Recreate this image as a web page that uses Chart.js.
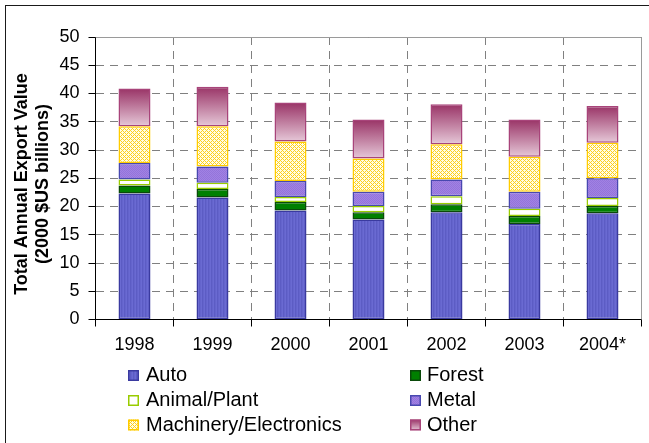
<!DOCTYPE html>
<html><head><meta charset="utf-8">
<script src="https://cdn.jsdelivr.net/npm/chart.js@4.4.1/dist/chart.umd.min.js"></script>
<style>html,body{margin:0;padding:0;background:#fff;overflow:hidden}canvas{display:block}</style>
</head><body>
<canvas id="c" width="649" height="443"></canvas>
<script>
// ---- data ----
const years = ['1998', '1999', '2000', '2001', '2002', '2003', '2004*'];
const auto        = [22.3, 21.6, 19.3, 17.7, 19.0, 16.9, 18.8];
const forest      = [1.4, 1.5, 1.5, 1.3, 1.4, 1.4, 1.3];
const animalPlant = [1.1, 1.1, 0.9, 1.1, 1.4, 1.3, 1.4];
const metal       = [2.9, 2.9, 2.8, 2.5, 3.0, 3.0, 3.5];
const machinery   = [6.5, 7.1, 7.0, 5.9, 6.2, 6.2, 6.3];
const other       = [6.7, 7.0, 6.9, 6.9, 7.1, 6.6, 6.5];
const seriesNames = ['Auto', 'Forest', 'Animal/Plant', 'Metal', 'Machinery/Electronics', 'Other'];
const yMin = 0, yMax = 50, yStep = 5;
const axisTitle = ['Total Annual Export Value', '(2000 $US billions)'];

const FONT = '"Liberation Sans", Arial, Helvetica, sans-serif';

// ---- patterns ----
function makePattern(w, h, fn) {
  const cv = document.createElement('canvas');
  cv.width = w; cv.height = h;
  const x = cv.getContext('2d');
  for (let i = 0; i < w; i++) for (let j = 0; j < h; j++) {
    x.fillStyle = fn(i, j); x.fillRect(i, j, 1, 1);
  }
  return document.getElementById('c').getContext('2d').createPattern(cv, 'repeat');
}
const autoFill = makePattern(3, 1, (i) => ['#6a6ad2', '#5c5cc4', '#6464cc'][i]);
const metalFill = makePattern(2, 2, (i, j) => ((i + j) % 2 ? '#a182e4' : '#9474da'));
const machFill = makePattern(4, 4, (i, j) => (((i + j) % 4 === 0) || ((i - j + 8) % 4 === 0)) ? '#ffd21a' : '#fffbe6');

function otherFillFor(ctx, y0, y1) {
  const g = ctx.createLinearGradient(0, y0, 0, y1);
  g.addColorStop(0, '#993366');
  g.addColorStop(1, '#e6c8d8');
  return g;
}

const otherBg = (c) => {
  const ch = c.chart, ys = ch.scales && ch.scales.y;
  if (!ys || c.dataIndex === undefined) return '#c07898';
  const i = c.dataIndex;
  const base = auto[i] + forest[i] + animalPlant[i] + metal[i] + machinery[i];
  const y0 = ys.getPixelForValue(base + other[i]);
  const y1 = ys.getPixelForValue(base);
  if (!isFinite(y0) || !isFinite(y1)) return '#c07898';
  return otherFillFor(ch.ctx, y0, y1);
};

const series = [auto, forest, animalPlant, metal, machinery, other];
const fills = [autoFill, '#008000', '#ffffff', metalFill, machFill, otherBg];
const borders = ['#3a3aa0', '#0a4a0a', '#99cc00', '#4848b0', '#ffcc00', '#a8447a'];

const datasets = series.map((d, k) => ({
  label: seriesNames[k],
  data: d,
  backgroundColor: fills[k],
  borderColor: borders[k],
  borderWidth: 1.5,
  borderSkipped: false,
  barPercentage: 0.41,
  categoryPercentage: 1.0
}));

// ---- plugin: frame, axes lines, title, legend ----
const decor = {
  id: 'decor',
  afterDatasetsDraw(chart) {
    const {ctx, chartArea: a} = chart;
    const L = Math.floor(a.left) + 0.5, R = Math.floor(a.right) + 0.5;
    const T = Math.floor(a.top) + 0.5, B = Math.floor(a.bottom) + 0.5;
    ctx.save();
    ctx.setLineDash([]);
    ctx.lineWidth = 1;
    // top & right plot border (gray)
    ctx.strokeStyle = '#9a9a9a';
    ctx.beginPath();
    ctx.moveTo(L, T); ctx.lineTo(R, T); ctx.lineTo(R, B);
    ctx.stroke();
    // axes (black)
    ctx.strokeStyle = '#000';
    ctx.beginPath();
    ctx.moveTo(L, T); ctx.lineTo(L, B); ctx.lineTo(R, B);
    ctx.stroke();
    ctx.restore();
  },
  afterDraw(chart) {
    const {ctx} = chart;
    ctx.save();
    ctx.setLineDash([]);
    // outer frame
    ctx.strokeStyle = '#1a1a1a'; ctx.lineWidth = 1;
    ctx.strokeRect(5.5, 5.5, 700, 500);
    // axis title
    ctx.fillStyle = '#000';
    ctx.font = 'bold 18px ' + FONT;
    ctx.textAlign = 'center'; ctx.textBaseline = 'middle';
    ctx.translate(22, 184);
    ctx.rotate(-Math.PI / 2);
    ctx.fillText(axisTitle[0], 0, 0);
    ctx.fillText(axisTitle[1], 0, 21);
    ctx.restore();

    // legend
    ctx.save();
    ctx.font = '20px ' + FONT;
    ctx.textAlign = 'left'; ctx.textBaseline = 'alphabetic';
    ctx.fillStyle = '#000';
    const colMarkX = [128, 410], colTextX = [146, 427];
    const rowBase = [381, 406, 430.5];
    chart.data.datasets.forEach((ds, k) => {
      const col = k % 2, row = Math.floor(k / 2);
      const mx = colMarkX[col], my = rowBase[row] - 11;
      const sz = 11;
      let f = fills[k];
      if (typeof f === 'function') f = otherFillFor(ctx, my, my + sz);
      ctx.fillStyle = f;
      ctx.fillRect(mx, my, sz, sz);
      ctx.strokeStyle = borders[k]; ctx.lineWidth = 1.5;
      ctx.strokeRect(mx + 0.75, my + 0.75, sz - 1.5, sz - 1.5);
      ctx.fillStyle = '#000';
      ctx.fillText(ds.label, colTextX[col], rowBase[row]);
    });
    ctx.restore();
  }
};

new Chart(document.getElementById('c'), {
  type: 'bar',
  data: { labels: years, datasets },
  options: {
    responsive: false,
    animation: false,
    events: [],
    layout: { padding: { left: 0, top: 37, right: 7.5, bottom: 0 } },
    plugins: { legend: { display: false }, tooltip: { enabled: false } },
    scales: {
      x: {
        stacked: true,
        grid: { offset: true, color: '#808080', tickColor: '#000', tickLength: 7, tickBorderDash: [] },
        border: { display: false, dash: [8, 6] },
        ticks: { color: '#000', font: { family: FONT, size: 18 }, padding: 8, maxRotation: 0, autoSkip: false },
        afterFit(s) { s.height = 123.5; }
      },
      y: {
        stacked: true,
        min: yMin, max: yMax,
        grid: { color: '#808080', tickColor: '#000', tickLength: 7, tickBorderDash: [] },
        border: { display: false, dash: [8, 6] },
        ticks: { stepSize: yStep, color: '#000', font: { family: FONT, size: 18 }, padding: 9 },
        afterFit(s) { s.width = 95.5; }
      }
    }
  },
  plugins: [decor]
});
</script>
</body></html>
